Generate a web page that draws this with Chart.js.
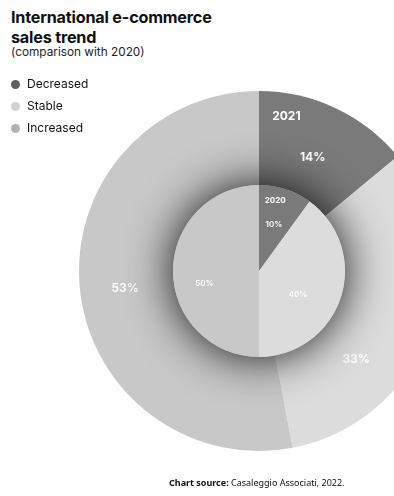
<!DOCTYPE html>
<html>
<head>
<meta charset="utf-8">
<script src="https://cdn.jsdelivr.net/npm/chart.js@4"></script>
<style>
  html, body { margin: 0; padding: 0; width: 394px; height: 496px; overflow: hidden; background: #fff; }
  body { position: relative; font-family: Inter, "Noto Sans", sans-serif; color: #111; }
  .title { position: absolute; left: 11px; top: 7px; font-size: 16.2px; font-weight: 700; line-height: 20px; letter-spacing: -0.2px; }
  .subtitle { position: absolute; left: 11px; top: 45px; font-size: 11.8px; line-height: 14px; color: #222; }
  .legend { position: absolute; left: 11px; top: 76px; font-size: 12px; z-index: 3; }
  .legend div { height: 22px; line-height: 16px; display: flex; align-items: flex-start; }
  .legend span.dot { width: 9px; height: 9px; border-radius: 50%; margin: 3.5px 7px 0 0; display: inline-block; }
  .wrap { position: absolute; left: 79px; top: 91px; width: 360px; height: 360px; }
  .wrap canvas { position: absolute; left: 0; top: 0; }
  .source { position: absolute; left: 169px; top: 476px; font-family: "Noto Sans", sans-serif; font-size: 9px; color: #111; }
</style>
</head>
<body>
<div class="title">International e-commerce<br>sales trend</div>
<div class="subtitle">(comparison with 2020)</div>
<div class="legend" id="legend"></div>
<div class="wrap">
  <canvas id="outer" width="360" height="360"></canvas>
  <canvas id="inner" width="360" height="360"></canvas>
</div>
<div class="source"><b>Chart source:</b> Casaleggio Associati, 2022.</div>
<script>
// data
const categories = ['Decreased', 'Stable', 'Increased'];
const values2021 = [14, 33, 53];
const values2020 = [10, 40, 50];
const years = ['2021', '2020'];

const sliceColors = ['#7a7a7a', '#dcdcdc', '#c8c8c8'];
const legendColors = ['#5f5f5f', '#d2d2d2', '#b2b2b2'];

// legend
const legendEl = document.getElementById('legend');
categories.forEach((c, i) => {
    const row = document.createElement('div');
    row.innerHTML = '<span class="dot" style="background:' + legendColors[i] + '"></span>' + c;
    legendEl.appendChild(row);
});

// label placement: t = fraction along the arc, r = fraction of radius
const slicePos = (arc, t, r) => {
    const p = arc.getProps(['x', 'y', 'startAngle', 'endAngle', 'outerRadius'], true);
    const a = p.startAngle + (p.endAngle - p.startAngle) * t;
    return { x: p.x + Math.cos(a) * p.outerRadius * r, y: p.y + Math.sin(a) * p.outerRadius * r };
};

const labelPlugin = {
    id: 'sliceLabels',
    afterDatasetsDraw(chart, args, opts) {
        const ctx = chart.ctx;
        const arcs = chart.getDatasetMeta(0).data;
        const vals = chart.data.datasets[0].data;
        ctx.save();
        ctx.fillStyle = '#fff';
        ctx.textAlign = 'center';
        ctx.textBaseline = 'middle';
        opts.spots.forEach((s, i) => {
            const p = slicePos(arcs[i], s.t, s.r);
            ctx.font = s.font || opts.font;
            ctx.fillText(vals[i] + '%', p.x, p.y);
        });
        const y = slicePos(arcs[0], opts.year.t, opts.year.r);
        ctx.font = opts.yearFont;
        ctx.fillText(opts.yearText, y.x, y.y);
        ctx.restore();
    }
};

const shadowPlugin = {
    id: 'pieShadow',
    beforeDatasetsDraw(chart) {
        const arc = chart.getDatasetMeta(0).data[0];
        if (!arc) return;
        const ctx = chart.ctx;
        ctx.save();
        ctx.shadowColor = 'rgba(0,0,0,0.92)';
        ctx.shadowBlur = 46;
        ctx.fillStyle = '#c8c8c8';
        ctx.beginPath();
        ctx.arc(arc.x, arc.y, arc.outerRadius, 0, Math.PI * 2);
        ctx.fill();
        ctx.restore();
    }
};

const baseOptions = {
    responsive: false,
    animation: false,
    devicePixelRatio: 1,
    plugins: { legend: { display: false }, tooltip: { enabled: false } }
};

const softFont = '600 12px Inter, "Noto Sans", sans-serif';

new Chart(document.getElementById('outer'), {
    type: 'pie',
    data: {
        labels: categories,
        datasets: [{ data: values2021, backgroundColor: sliceColors, borderWidth: 0 }]
    },
    options: Object.assign({}, baseOptions, {
        radius: 180,
        plugins: Object.assign({}, baseOptions.plugins, {
            sliceLabels: {
                font: '700 12px Inter, "Noto Sans", sans-serif',
                yearFont: '700 12px Inter, "Noto Sans", sans-serif',
                yearText: years[0],
                year: { t: 0.2, r: 0.87 },
                spots: [{ t: 0.5, r: 0.7 }, { t: 0.69, r: 0.73, font: softFont }, { t: 0.49, r: 0.75, font: softFont }]
            }
        })
    }),
    plugins: [labelPlugin]
});

new Chart(document.getElementById('inner'), {
    type: 'pie',
    data: {
        labels: categories,
        datasets: [{ data: values2020, backgroundColor: sliceColors, borderWidth: 0 }]
    },
    options: Object.assign({}, baseOptions, {
        radius: 86,
        plugins: Object.assign({}, baseOptions.plugins, {
            sliceLabels: {
                font: '600 8px Inter, "Noto Sans", sans-serif',
                yearFont: '700 8px Inter, "Noto Sans", sans-serif',
                yearText: years[1],
                year: { t: 0.36, r: 0.84 },
                spots: [{ t: 0.49, r: 0.57 }, { t: 0.59, r: 0.53 }, { t: 0.43, r: 0.65 }]
            }
        })
    }),
    plugins: [shadowPlugin, labelPlugin]
});
</script>
</body>
</html>
